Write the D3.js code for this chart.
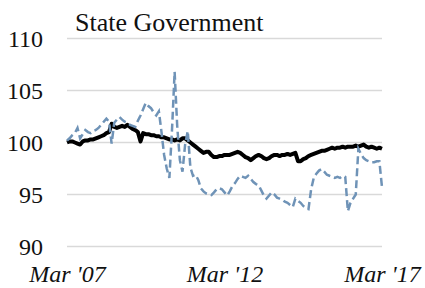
<!DOCTYPE html>
<html>
<head>
<meta charset="utf-8">
<script src="https://cdn.jsdelivr.net/npm/d3@7"></script>
<style>
  html, body { margin: 0; padding: 0; background: #fff; }
  svg text { font-family: "Liberation Serif", "DejaVu Serif", serif; fill: #111; }
</style>
</head>
<body>
<div id="chart"></div>
<script>
// monthly index, Mar 2007 (0) .. Mar 2017 (120)
const xTickLabels = ["Mar '07", "Mar '12", "Mar '17"];
const xTickIdx = [0, 60, 120];
const yTicks = [90, 95, 100, 105, 110];

const solidSeries = [
  100.0, 100.1, 100.1, 100.0, 99.9, 99.8, 100.1, 100.2, 100.2, 100.3,
  100.3, 100.4, 100.5, 100.6, 100.7, 100.9, 101.0, 101.8, 101.5, 101.4,
  101.5, 101.6, 101.5, 101.7, 101.5, 101.3, 101.2, 101.0, 100.1, 100.9,
  100.8, 100.8, 100.7, 100.7, 100.6, 100.6, 100.5, 100.5, 100.4, 100.3,
  100.3, 100.2, 100.3, 100.2, 100.4, 100.4, 100.2, 100.0, 99.8, 99.6,
  99.4, 99.2, 99.0, 99.1, 99.1, 98.8, 98.6, 98.6, 98.7, 98.7,
  98.8, 98.8, 98.8, 98.9, 99.0, 99.1, 99.0, 98.8, 98.6, 98.5,
  98.3, 98.5, 98.7, 98.8, 98.7, 98.5, 98.4, 98.5, 98.7, 98.8,
  98.8, 98.7, 98.8, 98.8, 98.9, 98.8, 98.9, 99.0, 98.2, 98.2,
  98.4, 98.5, 98.7, 98.8, 98.9, 99.0, 99.1, 99.2, 99.2, 99.3,
  99.4, 99.5, 99.4, 99.5, 99.5, 99.6, 99.5, 99.6, 99.6, 99.6,
  99.7, 99.6, 99.7, 99.8, 99.6, 99.5, 99.6, 99.5, 99.4, 99.5,
  99.4
];

const dashedSeries = [
  100.2, 100.4, 100.7, 100.9, 101.4, 100.4, 100.8, 101.2, 101.0, 100.9,
  101.1, 101.2, 101.4, 101.7, 102.0, 102.3, 102.0, 99.9, 101.9, 102.2,
  102.45, 102.2, 102.0, 101.9, 101.7, 101.6, 101.5, 102.1, 102.6, 103.2,
  103.8, 103.5, 103.3, 102.9, 102.6, 103.0, 101.0, 98.8, 97.5, 96.6,
  101.2, 106.8, 101.5, 98.3, 97.2, 99.8, 101.1, 97.6, 96.8, 96.9,
  96.4, 95.6, 95.3, 95.1, 95.0, 94.95, 95.2, 95.5, 95.6, 95.5,
  95.2, 94.9, 95.3, 95.8, 96.1, 96.5, 96.8, 96.7, 96.6, 96.8,
  96.5, 96.2, 96.0, 95.9, 95.4, 94.9, 94.6, 94.9, 95.2, 95.0,
  94.7, 94.6, 94.5, 94.3, 94.2, 94.0, 93.8, 94.6, 94.4, 94.2,
  93.9, 93.7, 93.6, 95.5, 96.6, 97.0, 97.3, 97.45, 97.2, 96.9,
  96.8, 96.7, 96.6, 96.7, 96.6, 96.8, 96.7, 93.4, 94.2, 94.6,
  95.0, 99.4, 98.9, 98.5, 98.3, 98.2, 98.1, 98.1, 98.2, 98.2,
  95.7
];

const W = 425, H = 288;
const margin = { top: 38.5, right: 43, bottom: 41.5, left: 67 };

const svg = d3.select("#chart")
  .append("svg")
  .attr("width", W)
  .attr("height", H);

const x = d3.scaleLinear()
  .domain([0, 120])
  .range([margin.left, W - margin.right]);

const y = d3.scaleLinear()
  .domain([90, 110])
  .range([H - margin.bottom, margin.top]);

// gridlines
svg.append("g")
  .selectAll("line")
  .data(yTicks)
  .join("line")
  .attr("x1", x(0))
  .attr("x2", x(120))
  .attr("y1", d => y(d))
  .attr("y2", d => y(d))
  .attr("stroke", "#d9d9d9")
  .attr("stroke-width", 1.5);

// y axis labels
const yAxis = svg.append("g")
  .attr("transform", `translate(${margin.left - 24},0)`)
  .call(d3.axisLeft(y).tickValues(yTicks).tickSize(0).tickPadding(0));
yAxis.select(".domain").remove();
yAxis.selectAll("text")
  .attr("font-family", "Liberation Serif, serif")
  .attr("font-size", 24)
  .attr("fill", "#111")
  .attr("dy", "0.34em");

// x axis labels
const xAxis = svg.append("g")
  .attr("transform", `translate(0,${H - 6})`)
  .call(d3.axisBottom(x).tickValues(xTickIdx).tickFormat((d, i) => xTickLabels[i]).tickSize(0).tickPadding(0));
xAxis.select(".domain").remove();
xAxis.selectAll("text")
  .attr("font-family", "Liberation Serif, serif")
  .attr("font-size", 24)
  .attr("font-style", "italic")
  .attr("fill", "#111")
  .attr("dy", 0);

const line = d3.line()
  .x((d, i) => x(i))
  .y(d => y(d));

svg.append("path")
  .datum(solidSeries)
  .attr("fill", "none")
  .attr("stroke", "#000")
  .attr("stroke-width", 4)
  .attr("stroke-linejoin", "round")
  .attr("d", line);

svg.append("path")
  .datum(dashedSeries)
  .attr("fill", "none")
  .attr("stroke", "#6f93b7")
  .attr("stroke-width", 2.5)
  .attr("stroke-dasharray", "8,4")
  .attr("d", line);

// title
svg.append("text")
  .attr("x", 75)
  .attr("y", 31)
  .attr("font-size", 26)
  .text("State Government");
</script>
</body>
</html>
